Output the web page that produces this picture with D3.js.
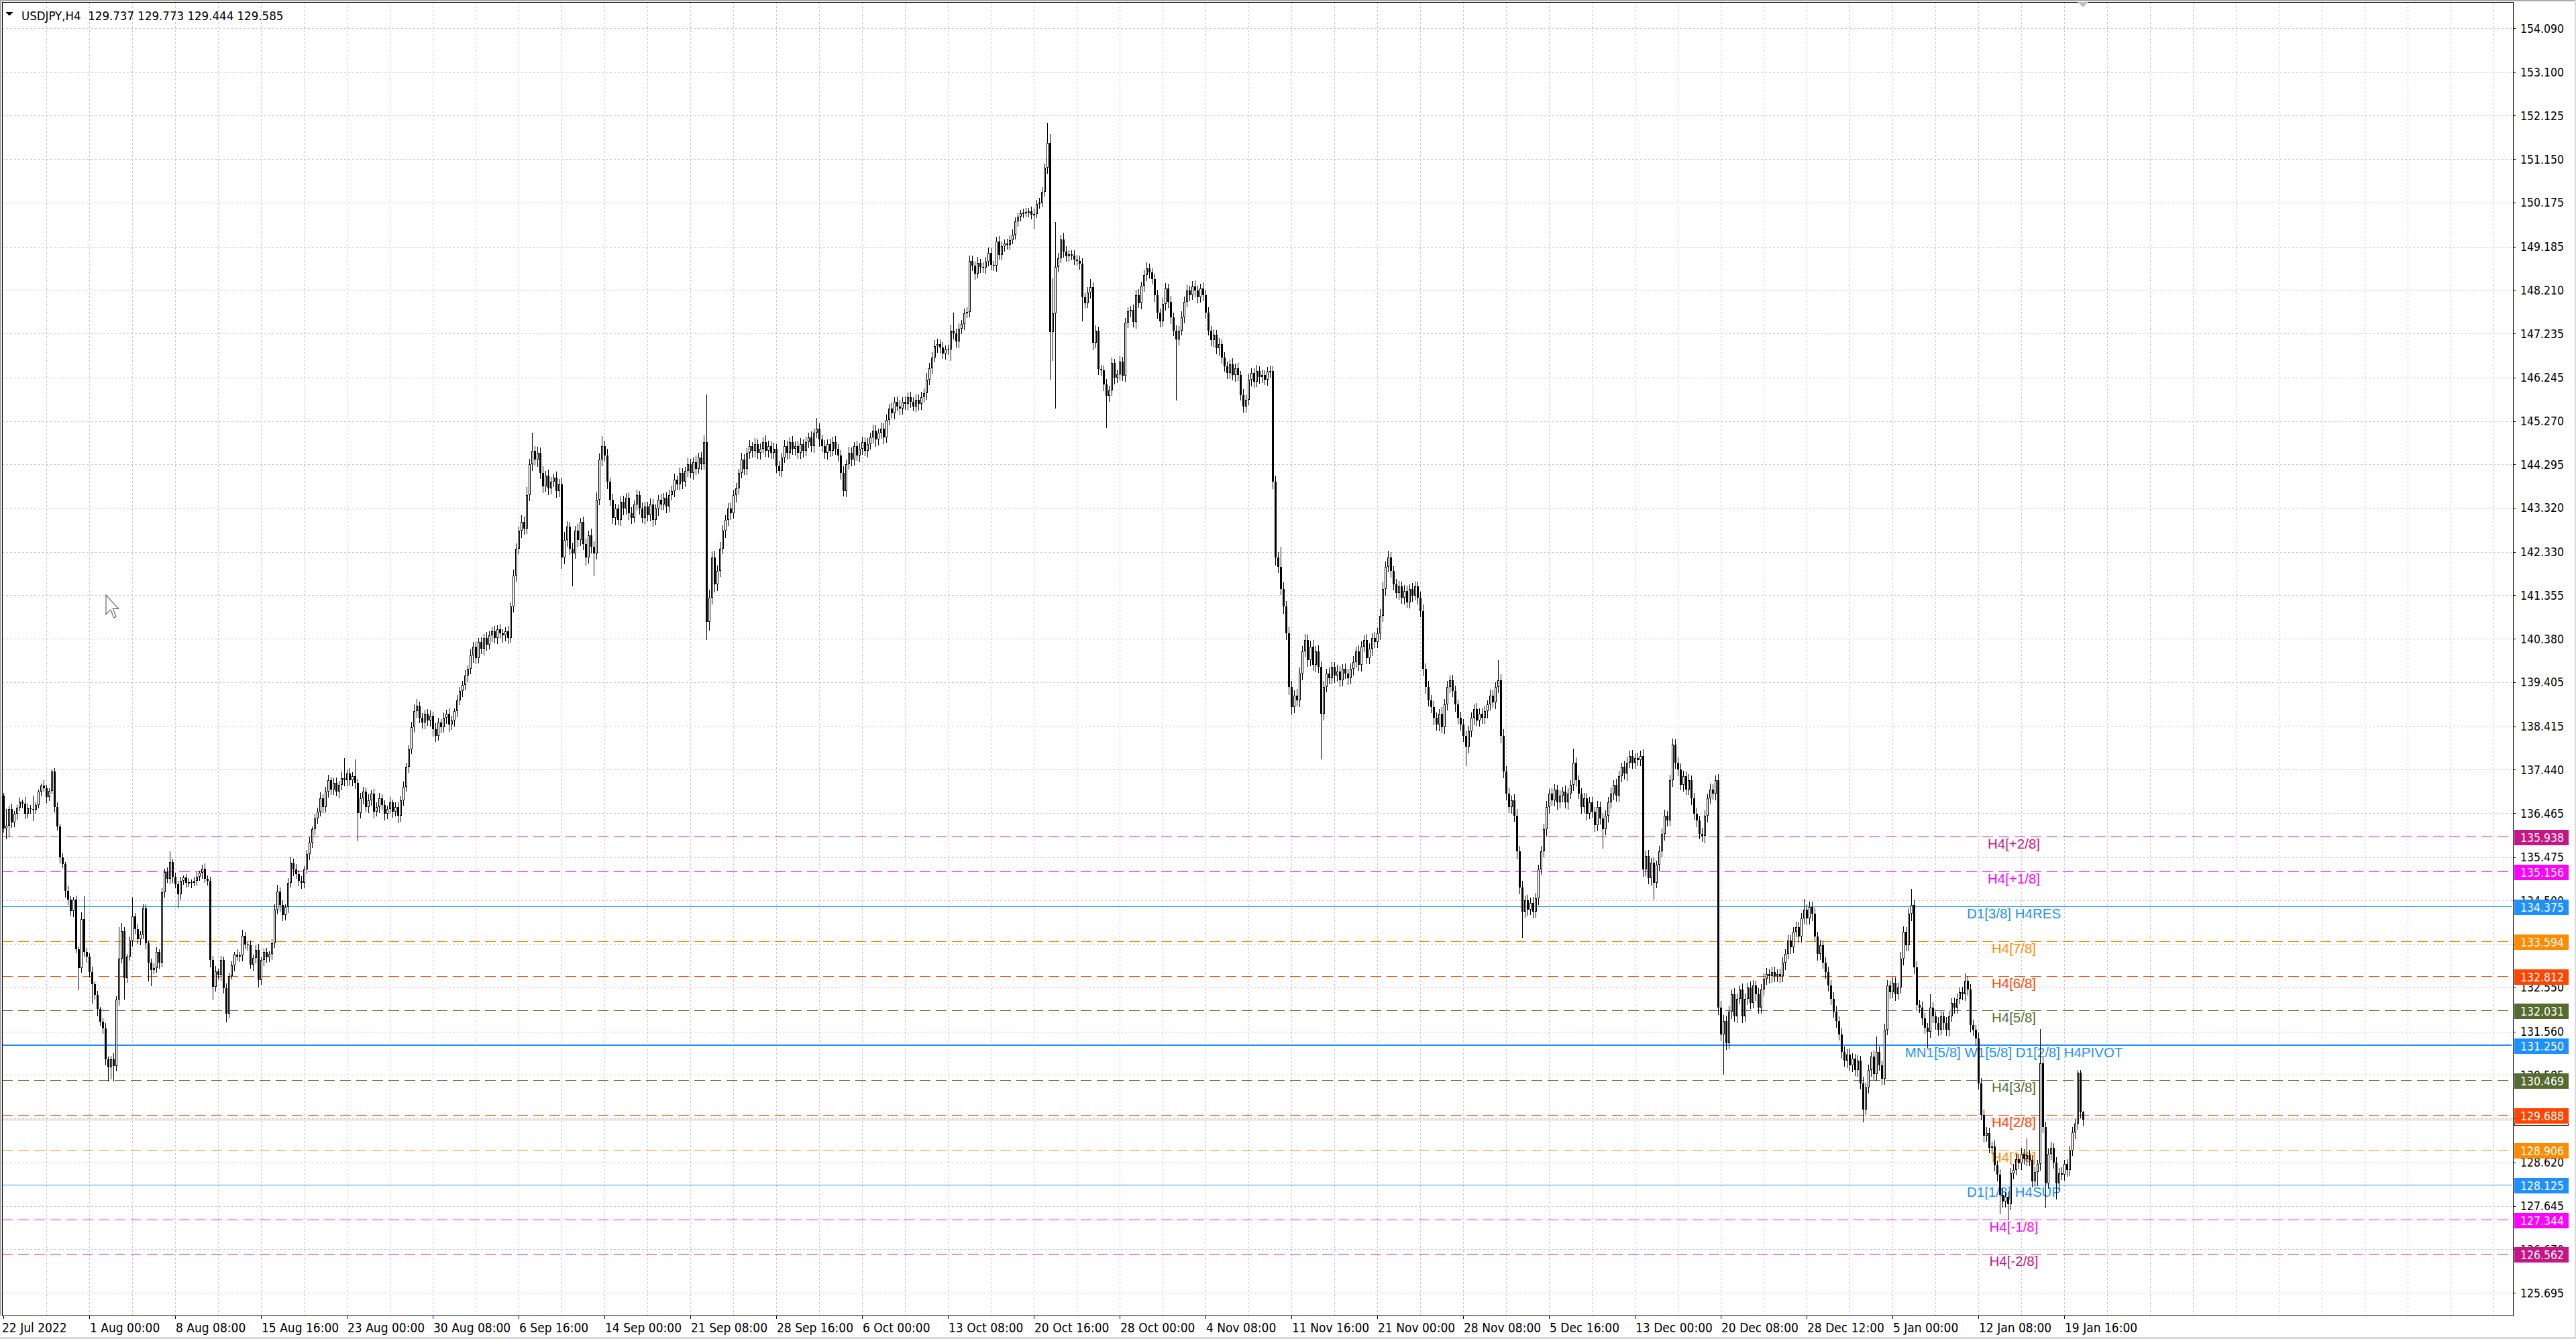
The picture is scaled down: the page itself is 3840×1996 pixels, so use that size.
<!DOCTYPE html>
<html><head><meta charset="utf-8">
<script src="https://cdn.jsdelivr.net/npm/d3@7"></script>
<style>html,body{margin:0;padding:0;background:#fff;overflow:hidden}svg{display:block}</style>
</head><body>
<svg id="chart" width="3840" height="1996"></svg>
<script>
// ---------------- DATA ----------------
const symbolName = "USDJPY,H4";
const lastOHLC = ["129.737", "129.773", "129.444", "129.585"];
const firstOpen = 136.85;
const closes = [
136.12,136.18,136.55,136.25,136.45,136.58,136.72,136.68,136.45,136.57,
136.56,136.54,136.65,136.95,137.09,137.03,136.83,136.97,137.40,136.60,
136.17,135.47,135.32,134.72,134.52,134.27,134.52,133.41,132.99,134.09,
133.34,133.24,132.89,132.63,132.38,132.06,131.78,131.63,130.93,130.75,
130.93,130.78,132.28,133.19,133.81,132.76,133.24,133.61,134.14,133.86,
133.63,133.74,134.32,133.54,133.11,132.94,132.99,133.34,133.11,134.69,
135.14,134.99,135.37,135.04,134.87,134.64,134.94,135.02,134.90,134.92,
134.90,134.95,135.04,135.12,135.22,134.99,134.95,133.16,132.56,132.91,
132.83,133.16,132.53,131.96,132.81,133.04,133.29,133.24,133.27,133.71,
133.51,133.50,133.06,133.21,133.40,132.71,133.16,133.34,133.22,133.30,
133.55,134.30,134.70,134.40,134.17,134.35,134.90,135.35,135.20,135.10,
134.95,134.90,135.20,135.55,135.80,136.10,136.35,136.50,136.80,136.60,
136.95,137.20,137.00,137.15,136.95,137.10,137.25,137.20,137.35,137.20,
137.30,137.15,136.46,136.80,136.95,136.60,136.75,136.90,136.50,136.60,
136.80,136.65,136.45,136.55,136.70,136.50,136.60,136.40,136.75,137.05,
137.50,137.90,138.40,138.75,138.88,138.60,138.50,138.70,138.55,138.65,
138.35,138.20,138.50,138.40,138.60,138.70,138.45,138.55,138.75,139.00,
139.20,139.35,139.55,139.70,140.00,140.20,139.95,140.30,140.15,140.40,
140.25,140.45,140.55,140.40,140.60,140.50,140.45,140.55,140.40,141.10,
141.80,142.40,142.80,143.00,142.85,143.60,144.30,144.60,144.40,144.55,
144.10,143.80,144.05,143.75,143.90,144.00,143.70,143.85,142.20,142.60,
142.90,142.40,142.30,142.80,142.60,143.00,142.50,142.20,142.70,142.45,
142.30,143.50,144.40,144.70,144.50,143.90,143.50,143.10,143.30,143.05,
143.45,143.30,143.55,143.20,143.10,143.40,143.60,143.30,143.10,143.35,
143.15,143.40,143.05,143.30,143.50,143.40,143.55,143.35,143.60,143.70,
143.95,143.85,144.10,143.90,144.15,144.30,144.10,144.35,144.20,144.45,
144.30,144.80,140.76,141.30,142.20,141.60,141.90,142.40,142.80,143.05,
143.30,143.20,143.60,143.75,144.10,144.40,144.20,144.55,144.70,144.60,
144.75,144.55,144.65,144.80,144.60,144.70,144.55,144.65,144.25,144.15,
144.45,144.70,144.55,144.80,144.65,144.70,144.55,144.75,144.60,144.80,
144.90,144.70,145.00,145.10,144.85,144.70,144.55,144.75,144.60,144.80,
144.65,144.50,144.10,143.70,144.30,144.55,144.40,144.70,144.50,144.65,
144.80,144.60,144.75,144.90,145.05,144.85,145.00,145.10,144.90,145.30,
145.55,145.45,145.70,145.60,145.55,145.70,145.65,145.80,145.70,145.60,
145.75,145.65,145.80,145.90,146.20,146.45,146.70,146.95,147.00,146.92,
146.79,146.87,146.87,147.29,147.24,147.05,147.34,147.44,147.69,147.72,
148.87,148.75,148.57,148.82,148.72,148.71,148.85,149.05,148.77,148.75,
149.30,149.00,149.20,149.25,149.22,149.33,149.45,149.75,149.85,149.93,
149.95,149.96,149.98,149.90,149.92,150.15,150.18,150.41,150.96,151.51,
147.27,147.69,148.72,148.92,149.35,149.08,148.97,149.01,148.99,148.90,
148.87,148.80,148.05,147.92,148.15,148.27,147.02,147.29,146.44,146.41,
146.09,145.84,145.96,146.57,146.24,146.31,146.61,146.29,147.47,147.74,
147.76,147.49,148.10,147.92,148.30,148.55,148.70,148.60,148.45,148.10,
147.70,147.50,147.90,148.25,147.95,147.60,147.30,147.10,147.30,147.60,
147.95,148.20,148.10,148.29,148.20,148.05,148.25,148.10,147.70,147.30,
147.08,147.20,146.90,147.00,146.70,146.50,146.35,146.55,146.30,146.45,
146.30,145.85,145.60,145.75,146.20,146.35,146.15,146.40,146.25,146.30,
146.20,146.38,146.40,143.90,142.20,142.00,141.50,141.10,140.50,139.30,
138.85,139.10,139.00,139.60,140.10,140.35,139.90,140.20,139.80,140.10,
139.75,138.70,139.30,139.60,139.50,139.75,139.55,139.65,139.45,139.70,
139.60,139.50,139.70,139.85,140.10,139.80,140.20,140.35,139.95,140.15,
140.40,140.30,140.50,140.90,141.50,142.00,142.20,141.90,141.60,141.40,
141.55,141.30,141.45,141.20,141.50,141.35,141.55,141.30,141.00,139.70,
139.30,139.00,138.85,138.60,138.45,138.70,138.40,138.90,139.30,139.45,
139.20,138.90,138.60,138.45,138.20,137.95,138.30,138.60,138.80,138.55,
138.70,138.60,138.75,138.90,139.10,138.95,139.30,139.45,138.20,137.40,
136.90,136.60,136.75,136.40,135.60,134.80,134.25,134.50,134.30,134.45,
134.25,134.55,135.20,135.60,136.10,136.60,136.90,136.75,137.00,136.70,
136.85,136.95,136.70,136.90,137.10,137.60,137.20,136.90,136.60,136.80,
136.45,136.70,136.50,136.20,136.60,136.35,136.10,136.40,136.70,136.90,
137.10,136.85,137.30,137.50,137.35,137.60,137.75,137.60,137.70,137.65,
137.75,135.20,135.50,135.00,135.35,134.90,135.30,135.60,136.00,136.40,
136.30,137.20,138.00,137.60,137.45,137.10,137.30,137.00,137.20,136.80,
136.45,136.30,136.00,135.95,136.40,136.80,137.00,136.90,137.20,132.10,
131.50,131.80,131.30,132.00,132.40,131.90,132.30,132.50,131.90,132.30,
132.55,132.20,132.60,132.40,132.10,132.50,132.75,132.85,132.80,132.90,
132.80,132.85,132.80,133.10,133.30,133.60,133.45,133.80,133.90,133.70,
134.10,134.30,134.10,134.35,134.20,133.70,133.30,133.50,133.10,132.90,
132.60,132.30,132.00,131.80,131.50,131.10,130.90,131.05,130.80,130.95,
130.70,130.90,130.40,129.80,130.30,130.70,131.00,130.60,131.10,130.80,
130.50,131.60,132.60,132.45,132.65,132.40,132.55,133.20,133.80,133.50,
134.20,134.40,133.00,132.15,132.10,131.85,131.65,131.55,132.10,131.90,
131.75,131.60,131.90,131.75,131.60,131.90,132.20,132.10,132.30,132.45,
132.40,132.70,132.50,131.70,131.60,131.40,130.40,129.69,129.22,129.28,
128.95,128.98,128.55,128.35,127.90,127.74,127.85,127.68,128.38,128.45,
128.70,128.60,128.82,128.70,128.79,128.68,128.20,128.40,128.58,130.84,
129.42,128.15,128.82,128.95,128.62,128.15,128.38,128.35,128.58,128.45,
128.89,129.29,129.49,130.63,129.74,129.585];
// upper / lower shadow lengths, in 0.01 JPY
const wickUp = [
7,37,8,12,6,6,9,5,14,10, 8,29,6,5,4,12,7,5,5,8, 10,6,9,5,12,8,7,10,6,14, 51,10,8,12,6,9,5,8,12,6,
9,14,8,71,19,10,6,9,43,8, 12,7,10,9,6,8,10,12,7,9, 8,10,23,6,9,7,10,5,8,9, 6,8,10,5,9,12,7,8,10,12,
6,9,8,11,7,10,5,12,8,14, 9,6,11,8,10,13,7,9,10,6, 8,12,15,9,11,7,10,14,9,12, 8,10,7,9,12,6,10,8,14,9,
11,13,8,10,12,9,15,45,10,12, 9,37,8,12,10,9,14,8,11,10, 12,9,10,8,13,7,10,11,9,12, 10,8,12,15,14,9,11,8,10,12,
9,13,10,8,12,9,11,10,7,12, 10,9,12,8,14,10,12,9,11,8, 13,10,9,12,8,11,10,9,12,10, 14,12,10,15,13,18,12,40,10,14,
12,15,10,13,11,9,14,12,15,18, 12,10,14,11,16,9,13,12,10,15, 11,16,14,23,12,15,10,13,11,9, 12,14,10,11,13,9,12,10,14,11,
10,13,12,9,11,14,10,12,13,11, 14,10,12,11,9,13,12,10,14,11, 12,15,107,18,14,16,12,15,13,10, 12,14,11,13,10,15,12,11,14,10,
13,11,12,10,14,12,11,13,10,12, 11,14,12,10,13,11,12,14,10,12, 11,13,10,24,12,11,14,10,12,11, 13,10,12,15,11,14,12,10,13,11,
12,10,14,11,13,12,10,14,11,12, 10,13,11,12,14,10,12,11,13,10, 12,11,13,10,14,12,11,13,12,10, 12,10,11,14,41,10,12,9,11,10,
12,11,10,13,9,12,10,11,12,10, 11,12,10,9,11,10,12,9,10,8, 9,10,8,11,12,9,10,11,8,45, 20,78,101,12,10,15,11,9,10,12,
10,11,12,9,13,18,11,12,10,9, 11,12,10,13,9,12,11,10,12,9, 10,12,11,13,10,12,14,11,9,12, 11,10,14,12,10,13,11,12,10,14,
11,13,10,12,14,11,10,13,11,12, 10,12,11,13,10,12,11,10,13,11, 12,10,13,11,12,10,11,13,10,12, 11,10,12,10,15,12,44,14,12,16,
14,12,15,13,11,14,12,13,15,11, 13,12,14,11,13,12,10,14,12,11, 13,11,12,14,10,13,12,11,14,12, 11,13,12,14,16,12,15,13,11,12,
13,11,14,12,10,13,12,11,14,15, 12,14,11,13,12,10,14,12,13,11, 12,13,11,14,12,10,13,12,11,14, 12,11,13,10,14,12,11,45,13,15,
12,14,11,13,15,12,14,11,13,12, 14,12,11,13,12,14,11,13,12,10, 13,11,14,12,10,31,12,11,13,12, 11,13,12,10,14,12,11,13,12,14,
11,13,12,10,14,12,11,13,10,12, 11,14,12,13,11,12,10,13,12,14, 11,13,14,12,11,13,12,10,14,11, 12,13,11,14,12,10,13,12,11,14,
15,13,12,14,11,13,12,10,14,12, 11,13,12,10,14,12,11,13,10,12, 11,10,12,13,11,14,12,10,13,11, 12,23,11,13,12,14,10,12,11,13,
12,11,14,12,10,13,12,11,13,12, 11,13,12,14,11,12,10,13,35,12, 11,14,12,10,13,12,11,14,12,11, 13,36,12,14,11,13,12,10,30,12,
11,13,12,10,14,12,11,13,12,10, 12,17,11,13,12,10,14,12,11,13, 12,10,13,11,12,14,10,12,11,13, 12,11,13,10,37,12,11,13,10,77,
14,12,11,13,10,12,11,13,10,12, 11,13,10,7,7,3];
const wickDn = [
7,22,23,10,8,12,6,9,11,7, 10,24,8,6,9,7,12,8,6,10, 8,12,7,14,10,9,12,8,49,10, 8,12,10,43,9,14,8,11,12,30,
25,33,10,12,8,46,9,7,12,10, 8,11,9,12,41,34,8,10,12,9, 11,7,10,12,8,29,10,7,9,8, 10,6,9,8,12,7,10,14,26,9,
8,12,10,18,9,7,11,8,10,12, 9,11,8,12,10,14,9,11,10,8, 12,10,9,14,11,10,12,9,13,10, 11,12,10,9,13,10,12,11,9,12,
10,13,11,12,9,14,10,11,12,10, 11,12,61,10,13,9,12,11,14,10, 12,10,13,11,9,12,10,14,11,10, 9,12,10,11,13,10,12,14,11,12,
15,12,10,13,11,12,14,10,12,11, 10,12,11,13,10,14,12,11,10,13, 12,10,13,11,12,10,14,11,12,10, 11,12,10,14,12,10,11,13,12,14,
12,14,11,13,12,10,14,12,23,13, 14,12,73,11,15,13,12,16,11,14, 50,12,10,13,11,14,12,13,15,11, 12,13,11,14,12,10,13,12,11,14,
12,11,13,10,14,12,11,13,12,10, 13,11,12,14,10,12,11,13,12,10, 12,11,40,18,14,16,13,12,11,14, 12,13,11,14,12,10,13,12,11,14,
12,11,13,10,12,14,11,12,13,11, 12,10,13,11,12,14,11,12,13,10, 12,11,13,10,14,12,11,13,12,10, 13,12,14,11,12,10,13,12,11,14,
12,11,13,10,12,14,11,12,13,10, 12,11,13,10,14,12,11,13,12,10, 11,13,12,10,14,11,12,10,13,12, 11,12,10,23,12,11,13,10,12,9,
11,10,12,9,11,10,12,9,11,10, 12,9,10,11,9,10,8,9,10,8, 9,8,10,9,32,8,9,10,8,12, 106,63,213,10,9,12,11,10,9,11,
10,12,53,11,10,12,14,10,12,11, 13,71,12,11,13,10,12,11,13,10, 12,11,13,10,12,11,13,12,10,14, 12,11,10,13,12,14,11,136,12,10,
13,11,12,10,14,12,11,13,12,10, 12,13,11,14,12,10,13,12,11,14, 12,10,13,12,11,14,12,10,13,12, 11,13,12,14,16,13,12,15,14,17,
15,13,12,14,13,11,14,12,13,15, 12,102,14,11,13,12,14,11,13,12, 11,14,12,13,10,12,14,11,13,12, 14,12,11,13,12,14,11,13,12,10,
13,12,14,11,13,12,10,14,12,15, 14,13,12,15,11,13,12,14,11,13, 12,14,13,11,12,42,13,12,14,11, 13,12,11,14,12,10,13,12,15,14,
13,12,14,11,16,14,57,12,13,11, 14,12,13,11,12,14,13,11,12,14, 11,13,12,14,11,12,13,11,14,12, 13,11,12,14,12,13,42,11,13,12,
14,12,11,13,12,14,11,12,13,11, 12,15,13,12,14,37,11,13,12,14, 12,11,13,12,14,11,13,12,11,14, 12,13,11,12,14,13,11,12,13,15,
14,89,13,12,14,11,13,12,14,11, 13,12,11,14,12,13,11,12,14,13, 12,11,13,12,14,11,13,12,10,13, 12,11,13,12,14,11,13,12,11,14,
12,13,11,14,12,13,11,14,12,13, 12,14,13,27,12,11,14,12,13,11, 13,12,11,14,12,13,11,12,14,13, 12,14,13,12,11,13,12,35,12,13,
14,12,11,13,12,14,11,13,12,11, 12,13,11,14,12,13,12,11,13,12, 11,13,12,14,43,12,11,34,12,13, 11,12,13,11,14,12,13,11,30,13,
12,54,11,13,12,34,13,11,12,14, 12,11,13,12,11,14];

const priceTicks = ["154.090","153.100","152.125","151.150","150.175","149.185","148.210","147.235","146.245","145.270",
"144.295","143.320","142.330","141.355","140.380","139.405","138.415","137.440","136.465","135.475",
"134.500","133.525","132.550","131.560","130.585","129.610","128.620","127.645","126.670","125.695"];

const timeTickBars = [0,32,64,96,128,160,192,224,256,288,320,352,384,416,448,480,512,544,576,608,640,672,704,736,768];
const timeTickLabels = ["22 Jul 2022","1 Aug 00:00","8 Aug 08:00","15 Aug 16:00","23 Aug 00:00","30 Aug 08:00","6 Sep 16:00",
"14 Sep 00:00","21 Sep 08:00","28 Sep 16:00","6 Oct 00:00","13 Oct 08:00","20 Oct 16:00","28 Oct 00:00","4 Nov 08:00",
"11 Nov 16:00","21 Nov 00:00","28 Nov 08:00","5 Dec 16:00","13 Dec 00:00","20 Dec 08:00","28 Dec 12:00","5 Jan 00:00",
"12 Jan 08:00","19 Jan 16:00"];

const levelPrices = [135.938,135.156,134.375,133.594,132.812,132.031,131.250,130.469,129.688,128.906,128.125,127.344,126.562];
const levelLabels = ["H4[+2/8]","H4[+1/8]","D1[3/8] H4RES","H4[7/8]","H4[6/8]","H4[5/8]",
"MN1[5/8] W1[5/8] D1[2/8] H4PIVOT","H4[3/8]","H4[2/8]","H4[1/8]","D1[1/8] H4SUP","H4[-1/8]","H4[-2/8]"];
const bidPrice = 129.585;

// ---------------- STYLE ----------------
const FONT_AX = "'DejaVu Sans Condensed','DejaVu Sans',sans-serif";
const FONT_LV = "'Liberation Sans',Arial,sans-serif";
function levelStyle(label){
  if (label.includes("PIVOT")) return {color:"#1E90FF", dash:null, width:2};
  if (label.startsWith("D1")) return {color:"#1E90FF", dash:null, width:1};
  const m = label.match(/\[(.*)\]/)[1];
  const map = {"+2/8":"#C71585","-2/8":"#C71585","+1/8":"#FF00FF","-1/8":"#FF00FF",
    "7/8":"#FF8C00","1/8":"#FF8C00","6/8":"#FF4500","2/8":"#FF4500","5/8":"#556B2F","3/8":"#556B2F"};
  return {color: map[m], dash:"16,8", width:1};
}

// ---------------- LAYOUT ----------------
const W = 3840, H = 1996;
const plot = {left:3, top:3, right:3746, bottom:1961};
const svg = d3.select("#chart").attr("shape-rendering","crispEdges");

const x = d3.scaleLinear().domain([0, 935]).range([5, 3745]);
const y = d3.scaleLinear().domain([125.695, 154.090]).range([1927, 42]);

const bars = closes.map((c,i)=>{
  const o = i === 0 ? firstOpen : closes[i-1];
  return {i, o, c, h: Math.max(o,c) + wickUp[i]/100, l: Math.min(o,c) - wickDn[i]/100};
});

svg.append("rect").attr("width",W).attr("height",H).attr("fill","#fff");

// window frame
svg.append("rect").attr("x",0).attr("y",0).attr("width",W).attr("height",2).attr("fill","#a9a9a9");
svg.append("rect").attr("x",0).attr("y",H-3).attr("width",W).attr("height",3).attr("fill","#d9d9d9");
svg.append("rect").attr("x",W-2).attr("y",0).attr("width",2).attr("height",H).attr("fill","#d9d9d9");
svg.append("rect").attr("x",0).attr("y",0).attr("width",2).attr("height",plot.bottom).attr("fill","#a9a9a9");

const gGrid = svg.append("g").attr("stroke","#c8c8c8").attr("stroke-dasharray","3,3").attr("stroke-width",1);
gGrid.selectAll("line.h").data(priceTicks).join("line")
  .attr("x1",plot.left).attr("x2",plot.right)
  .attr("y1",d=>Math.round(y(+d))+0.5).attr("y2",d=>Math.round(y(+d))+0.5);
gGrid.selectAll("line.v").data(d3.range(16, 935, 16)).join("line")
  .attr("y1",plot.top).attr("y2",plot.bottom)
  .attr("x1",d=>Math.round(x(d))+0.5).attr("x2",d=>Math.round(x(d))+0.5);

// levels
const levels = levelPrices.map((p,i)=>({p, label:levelLabels[i], st:levelStyle(levelLabels[i])}));
const gLev = svg.append("g");
gLev.selectAll("line").data(levels).join("line")
  .attr("x1",plot.left).attr("x2",plot.right-2)
  .attr("y1",d=>Math.round(y(d.p))+(d.st.width===2?0:0.5))
  .attr("y2",d=>Math.round(y(d.p))+(d.st.width===2?0:0.5))
  .attr("stroke",d=>d.st.color).attr("stroke-width",d=>d.st.width)
  .attr("stroke-dasharray",d=>d.st.dash);

// bid line
svg.append("line").attr("x1",plot.left).attr("x2",plot.right)
  .attr("y1",Math.round(y(bidPrice))+0.5).attr("y2",Math.round(y(bidPrice))+0.5)
  .attr("stroke","#b0b0b0").attr("stroke-width",1);

// level texts
const labelBar = 749.25;
svg.append("g").selectAll("text").data(levels).join("text")
  .attr("x",x(labelBar)).attr("y",d=>y(d.p)+18)
  .attr("text-anchor","middle").attr("font-family",FONT_LV).attr("font-size",20.5)
  .attr("fill",d=>d.st.color).attr("shape-rendering","auto")
  .text(d=>d.label);

// candles
const gC = svg.append("g");
gC.selectAll("line").data(bars).join("line")
  .attr("x1",d=>Math.round(x(d.i))+0.5).attr("x2",d=>Math.round(x(d.i))+0.5)
  .attr("y1",d=>Math.round(y(d.h))).attr("y2",d=>Math.round(y(d.l))+1)
  .attr("stroke","#000").attr("stroke-width",1);
gC.selectAll("rect").data(bars).join("rect")
  .each(function(d){
    const cx = Math.round(x(d.i));
    const top = Math.round(y(Math.max(d.o,d.c)));
    const bot = Math.round(y(Math.min(d.o,d.c)));
    const s = d3.select(this);
    if (d.c > d.o && bot - top >= 2) {
      s.attr("x",cx-0.5).attr("y",top+0.5).attr("width",2).attr("height",bot-top-1)
       .attr("fill","#fff").attr("stroke","#000").attr("stroke-width",1);
    } else {
      s.attr("x",cx-1).attr("y",top).attr("width",3).attr("height",Math.max(bot-top,1)+ (d.c>d.o?1:0))
       .attr("fill","#000");
    }
  });

// plot frame
svg.append("rect").attr("x",plot.left+0.5).attr("y",plot.top+0.5)
  .attr("width",plot.right-plot.left).attr("height",plot.bottom-plot.top)
  .attr("fill","none").attr("stroke","#000").attr("stroke-width",1);

// right price axis
const gY = svg.append("g");
gY.selectAll("line").data(priceTicks).join("line")
  .attr("x1",plot.right).attr("x2",plot.right+4)
  .attr("y1",d=>Math.round(y(+d))+0.5).attr("y2",d=>Math.round(y(+d))+0.5)
  .attr("stroke","#000");
gY.selectAll("text").data(priceTicks).join("text")
  .attr("x",plot.right+11).attr("y",d=>y(+d)+6.5)
  .attr("font-family",FONT_AX).attr("font-stretch","condensed").attr("font-size",17.5).attr("fill","#000")
  .attr("shape-rendering","auto").text(d=>d);

// bottom time axis
const gX = svg.append("g");
gX.selectAll("line").data(timeTickBars).join("line")
  .attr("x1",d=>Math.round(x(d))+0.5).attr("x2",d=>Math.round(x(d))+0.5)
  .attr("y1",plot.bottom).attr("y2",plot.bottom+5).attr("stroke","#000");
gX.selectAll("text").data(timeTickBars).join("text")
  .attr("x",(d,i)=>i===0?x(d)-2:x(d)+1).attr("y",plot.bottom+25)
  .attr("font-family",FONT_AX).attr("font-stretch","condensed").attr("font-size",19).attr("fill","#000")
  .attr("shape-rendering","auto").text((d,i)=>timeTickLabels[i]);

// bid label (mostly hidden)
svg.append("rect").attr("x",plot.right+2.5).attr("y",Math.round(y(bidPrice))-8.5)
  .attr("width",80).attr("height",17).attr("fill","#fff").attr("stroke","#000");

// level price boxes
const gB = svg.append("g");
gB.selectAll("rect").data(levels).join("rect")
  .attr("x",plot.right+2).attr("y",d=>Math.round(y(d.p))-10).attr("width",81).attr("height",23)
  .attr("fill",d=>d.st.color);
gB.selectAll("text").data(levels).join("text")
  .attr("x",plot.right+11).attr("y",d=>y(d.p)+8)
  .attr("font-family",FONT_AX).attr("font-stretch","condensed").attr("font-size",17.5).attr("fill","#fff")
  .attr("shape-rendering","auto").text(d=>d.p.toFixed(3));

// header
svg.append("path").attr("d","M9,18 L19,18 L14,24 Z").attr("fill","#000");
svg.append("text").attr("x",32).attr("y",30).attr("xml:space","preserve")
  .style("white-space","pre")
  .attr("font-family",FONT_AX).attr("font-stretch","condensed").attr("font-size",18.5).attr("fill","#000")
  .attr("shape-rendering","auto")
  .text(symbolName + "  " + lastOHLC.join(" "));

// chart shift marker
svg.append("path").attr("d",`M${x(775)-8},3 L${x(775)+8},3 L${x(775)},11 Z`).attr("fill","#c0c0c0")
  .attr("shape-rendering","auto");

// mouse cursor
svg.append("path")
  .attr("d","M0,0 L0,17 L4,13 L7,20 L9,19 L6,12 L11,12 Z")
  .attr("transform","translate(158,887) scale(1.7)")
  .attr("fill","#fff").attr("stroke","#666").attr("stroke-width",0.7)
  .attr("shape-rendering","auto");
</script>
</body></html>
